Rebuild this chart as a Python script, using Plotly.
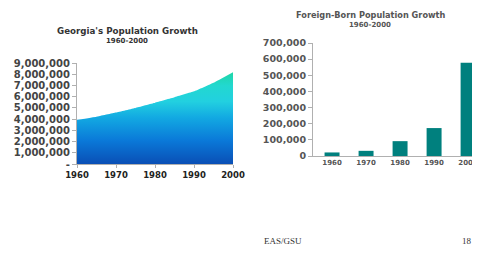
import plotly.graph_objects as go

# Left chart: Georgia population
ga_years = [1960, 1965, 1970, 1975, 1980, 1985, 1990, 1995, 2000]
ga_pop = [3943000, 4220000, 4590000, 5000000, 5463000, 5950000, 6478000, 7250000, 8186000]
ga_yticks = [0, 1000000, 2000000, 3000000, 4000000, 5000000, 6000000, 7000000, 8000000, 9000000]
ga_yticktext = ["-", "1,000,000", "2,000,000", "3,000,000", "4,000,000", "5,000,000",
                "6,000,000", "7,000,000", "8,000,000", "9,000,000"]
ga_xticks = [1960, 1970, 1980, 1990, 2000]

# Right chart: foreign-born population
fb_labels = ["1960", "1970", "1980", "1990", "2000"]
fb_values = [22000, 32000, 92000, 173000, 577000]
fb_yticks = [0, 100000, 200000, 300000, 400000, 500000, 600000, 700000]
fb_yticktext = ["0", "100,000", "200,000", "300,000", "400,000", "500,000", "600,000", "700,000"]

W, H = 480, 259
OFF = 8  # page body margin offset

def px_x(p):
    return (p - OFF) / W

def px_y(p):
    return 1 - (p - OFF) / H

fig = go.Figure()

fig.add_trace(go.Scatter(
    x=ga_years, y=ga_pop, mode="lines", line=dict(width=0, shape="spline", smoothing=0.3),
    fill="tozeroy",
    fillgradient=dict(type="vertical",
                      colorscale=[[0, "#0a4fb5"], [0.25, "#0a78d8"], [0.5, "#12a8e2"],
                                  [0.68, "#22d0e0"], [0.85, "#22d8d0"], [1, "#1ed6a6"]]),
    xaxis="x", yaxis="y", hoverinfo="skip", showlegend=False))

fig.add_trace(go.Bar(
    x=list(range(len(fb_labels))), y=fb_values, width=0.44, marker=dict(color="#00807e", line=dict(width=0)),
    xaxis="x2", yaxis="y2", showlegend=False))

fig.update_layout(
    width=W, height=H, margin=dict(l=0, r=0, t=0, b=0),
    paper_bgcolor="white", plot_bgcolor="white",
    xaxis=dict(domain=[px_x(77), px_x(233)], range=[1960, 2000], tickvals=ga_xticks,
               ticktext=[str(v) for v in ga_xticks], showgrid=False, zeroline=False,
               showline=True, linecolor="#b0b0b0", linewidth=1, ticks="outside", ticklen=3,
               tickcolor="#b0b0b0", tickfont=dict(family="DejaVu Sans", size=8.5, color="#222222", weight="bold"),
               anchor="y", fixedrange=True, automargin=False),
    yaxis=dict(domain=[px_y(164), px_y(63)], range=[0, 9000000], tickvals=ga_yticks,
               ticktext=ga_yticktext, showgrid=False, zeroline=False, showline=True,
               linecolor="#b0b0b0", linewidth=1, ticks="outside", ticklen=4, tickcolor="#b0b0b0",
               tickfont=dict(family="DejaVu Sans", size=10, color="#444444", weight="bold"),
               anchor="x", fixedrange=True, automargin=False),
    xaxis2=dict(domain=[px_x(313), px_x(480)], range=[-0.56, 4.35], tickvals=list(range(len(fb_labels))),
                ticktext=fb_labels, showgrid=False, zeroline=False, showline=True,
                linecolor="#b0b0b0", linewidth=1, ticks="",
                tickfont=dict(family="DejaVu Sans", size=7, color="#555555", weight="bold"),
                anchor="y2", fixedrange=True, automargin=False),
    yaxis2=dict(domain=[px_y(156), px_y(43)], range=[0, 700000], tickvals=fb_yticks,
                ticktext=fb_yticktext, showgrid=False, zeroline=False, showline=True,
                linecolor="#b0b0b0", linewidth=1, ticks="outside", ticklen=4, tickcolor="#b0b0b0",
                tickfont=dict(family="DejaVu Sans", size=9.5, color="#555555", weight="bold"),
                anchor="x2", fixedrange=True, automargin=False),
    annotations=[
        dict(text="<b>Georgia's Population Growth</b>", x=px_x(127), y=px_y(31), xref="paper", yref="paper",
             xanchor="center", yanchor="middle",
             showarrow=False, font=dict(family="DejaVu Sans", size=8.7, color="#333333")),
        dict(text="<b>1960-2000</b>", x=px_x(127), y=px_y(41), xref="paper", yref="paper",
             xanchor="center", yanchor="middle",
             showarrow=False, font=dict(family="DejaVu Sans", size=7, color="#333333")),
        dict(text="<b>Foreign-Born Population Growth</b>", x=px_x(370), y=px_y(15), xref="paper", yref="paper",
             xanchor="center", yanchor="middle",
             showarrow=False, font=dict(family="DejaVu Sans", size=8.2, color="#555555")),
        dict(text="<b>1960-2000</b>", x=px_x(370), y=px_y(25), xref="paper", yref="paper",
             xanchor="center", yanchor="middle",
             showarrow=False, font=dict(family="DejaVu Sans", size=7, color="#555555")),
        dict(text="EAS/GSU", x=px_x(283), y=px_y(241), xref="paper", yref="paper",
             xanchor="center", yanchor="middle",
             showarrow=False, font=dict(family="Liberation Serif", size=9, color="#333333")),
        dict(text="18", x=px_x(467), y=px_y(241), xref="paper", yref="paper",
             xanchor="center", yanchor="middle",
             showarrow=False, font=dict(family="Liberation Serif", size=9, color="#333333")),
    ],
)

fig.write_html("out.html")
